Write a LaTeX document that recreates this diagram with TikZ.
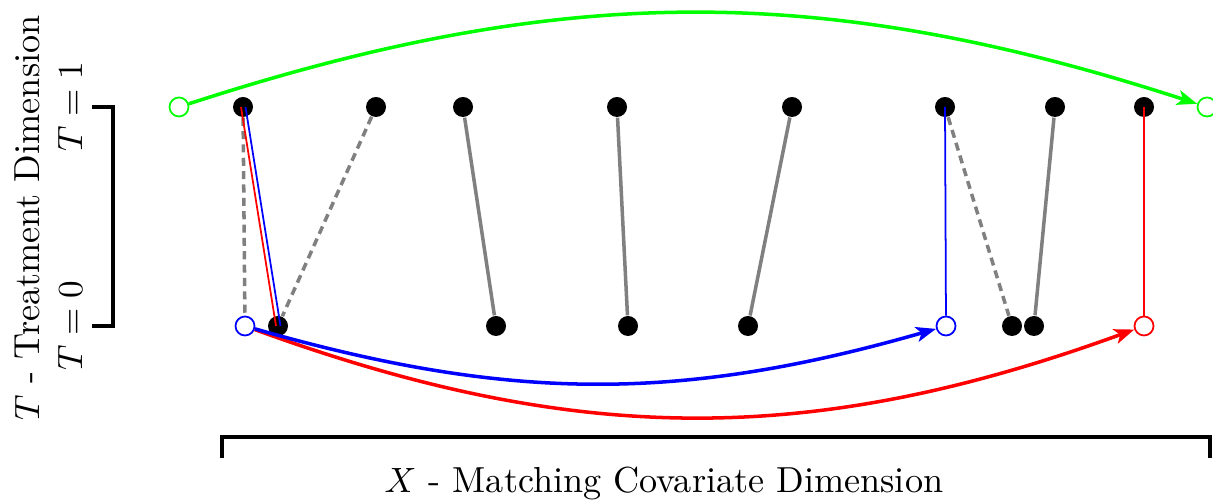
\documentclass[tikz,border=0pt]{standalone}
\usepackage{tikz}
\usetikzlibrary{arrows.meta, positioning}
\usepackage{amsmath}

\begin{document}
\begin{tikzpicture}[
    every node/.style={font=\fontsize{10.3}{12}\selectfont},
    dot/.style={circle, fill=black, inner sep=0pt, minimum size=2mm},
    hollow/.style={circle, fill=white, inner sep=0pt, minimum size=1.9mm, line width=0.5pt},
    pair/.style={gray, line width=1pt},
    dpair/.style={pair, dash pattern=on 2.3pt off 1.5pt},
    arc/.style={line width=1pt, -{Stealth[length=2mm, width=1.5mm, inset=0.5mm]}},
    brk/.style={line width=0.9pt}
]
    \useasboundingbox (0,0) rectangle (12.13,5);

    % treated units, T = 1
    \node[dot] (t1) at (2.43, 3.93) {};
    \node[dot] (t2) at (3.76, 3.93) {};
    \node[dot] (t3) at (4.63, 3.93) {};
    \node[dot] (t4) at (6.17, 3.93) {};
    \node[dot] (t5) at (7.92, 3.93) {};
    \node[dot] (t6) at (9.45, 3.93) {};
    \node[dot] (t7) at (10.55, 3.93) {};
    \node[dot] (t8) at (11.44, 3.93) {};
    \node[hollow, draw=green] (g1) at (1.79, 3.93) {};
    \node[hollow, draw=green] (g2) at (12.07, 3.93) {};

    % control units, T = 0
    \node[hollow, draw=blue] (c1) at (2.45, 1.74) {};
    \node[dot] (c2) at (2.78, 1.74) {};
    \node[dot] (c3) at (4.96, 1.74) {};
    \node[dot] (c4) at (6.28, 1.74) {};
    \node[dot] (c5) at (7.48, 1.74) {};
    \node[hollow, draw=blue] (c6) at (9.46, 1.74) {};
    \node[dot] (c7) at (10.12, 1.74) {};
    \node[dot] (c8) at (10.34, 1.74) {};
    \node[hollow, draw=red] (c9) at (11.44, 1.74) {};

    % matches
    \draw[dpair] (t1) -- (c1);
    \draw[dpair] (t2) -- (c2);
    \draw[pair] (t3) -- (c3);
    \draw[pair] (t4) -- (c4);
    \draw[pair] (t5) -- (c5);
    \draw[dpair] (t6) -- (c7);
    \draw[pair] (t7) -- (c8);

    \draw[red, line width=0.5pt] ([xshift=-0.2mm]t1.center) -- ([xshift=-0.2mm]c2.center);
    \draw[blue, line width=0.5pt] ([xshift=0.25mm]t1.center) -- ([xshift=0.25mm]c2.center);
    \draw[blue, line width=0.5pt] (t6.center) -- (c6);
    \draw[red, line width=0.5pt] (t8.center) -- (c9);

    % shifts
    \draw[arc, green] (g1) to[out=18, in=162] (g2);
    \draw[arc, red] (c1) to[out=-20, in=200] (c9);
    \draw[arc, blue] (c1) to[out=-16, in=196] (c6);

    % axes
    \draw[brk] (0.92, 3.93) -- (1.13, 3.93) -- (1.13, 1.74) -- (0.92, 1.74);
    \node[rotate=90] (lab1) at (0.70, 3.93) {$T=1$};
    \node[rotate=90] (lab0) at (0.70, 1.74) {$T=0$};
    \node[rotate=90] (ylab) at (0.27, 2.82) {$T$ - Treatment Dimension};

    \draw[brk] (2.22, 0.42) -- (2.22, 0.63) -- (12.10, 0.63) -- (12.10, 0.42);
    \node (xlab) at (6.64, 0.17) {$X$ - Matching Covariate Dimension};
\end{tikzpicture}
\end{document}
